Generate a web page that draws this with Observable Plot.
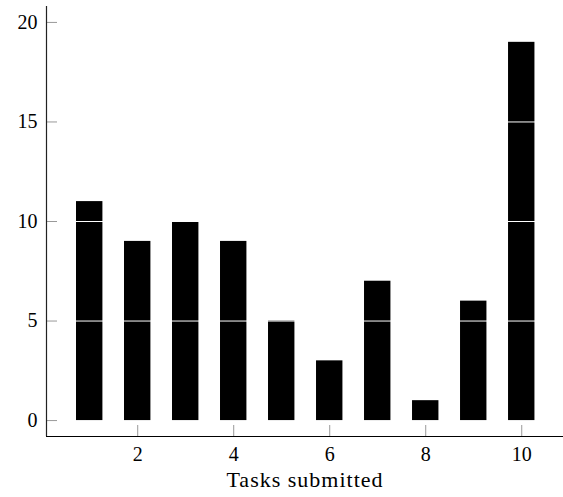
<!DOCTYPE html>
<html>
<head>
<meta charset="utf-8">
<script src="https://cdn.jsdelivr.net/npm/d3@7"></script>
<script src="https://cdn.jsdelivr.net/npm/@observablehq/plot@0.6"></script>
<style>
  html, body { margin: 0; padding: 0; background: #fff; }
  svg { display: block; }
  #chart svg, #chart svg text { font-family: "Liberation Serif", serif !important; }
  #chart svg text.xtitle { letter-spacing: 1px; }
</style>
</head>
<body>
<div id="chart"></div>
<script>
const tasks = [1, 2, 3, 4, 5, 6, 7, 8, 9, 10];
const counts = [11, 9, 10, 9, 5, 3, 7, 1, 6, 19];
const yTicks = [0, 5, 10, 15, 20];
const xTicks = [2, 4, 6, 8, 10];
const gridValues = [5, 10, 15];
const xLabel = "Tasks submitted";

const data = tasks.map((t, i) => ({task: t, count: counts[i]}));
const xMin = 0.1, xMax = 10.87, yMin = -0.8, yMax = 20.8;
const half = 0.275;
const serif = "Liberation Serif";

const chart = Plot.plot({
  width: 563,
  height: 497,
  marginLeft: 46,
  marginRight: 0,
  marginTop: 6,
  marginBottom: 61,
  style: {fontFamily: serif, fontSize: "20px", color: "#000", background: "#fff"},
  x: {domain: [xMin, xMax]},
  y: {domain: [yMin, yMax]},
  marks: [
    Plot.rectY(data, {x1: d => d.task - half, x2: d => d.task + half, y1: 0, y2: "count", fill: "#000"}),
    Plot.ruleY(gridValues, {stroke: "#fff", strokeWidth: 1}),
    Plot.ruleY(yTicks, {x1: xMin, x2: xMin + 11 / 48, stroke: "#999", strokeWidth: 1}),
    Plot.ruleX(xTicks, {y1: yMin, y2: yMin + 11 / 19.9, stroke: "#999", strokeWidth: 1}),
    Plot.axisY(yTicks, {tickSize: 0, tickPadding: 9, label: null, fontSize: 20, fontFamily: serif}),
    Plot.axisX(xTicks, {tickSize: 0, tickPadding: 10, label: null, fontSize: 20, fontFamily: serif}),
    Plot.ruleX([xMin], {stroke: "#222", strokeWidth: 1.2}),
    Plot.ruleY([yMin], {stroke: "#000", strokeWidth: 1.2}),
    Plot.text([xLabel], {frameAnchor: "bottom", dy: 50, fontSize: 22, fontFamily: serif, fill: "#000"})
  ]
});
chart.querySelectorAll("text").forEach(t => { if (t.textContent === xLabel) t.setAttribute("class", "xtitle"); });
document.getElementById("chart").appendChild(chart);
</script>
</body>
</html>
